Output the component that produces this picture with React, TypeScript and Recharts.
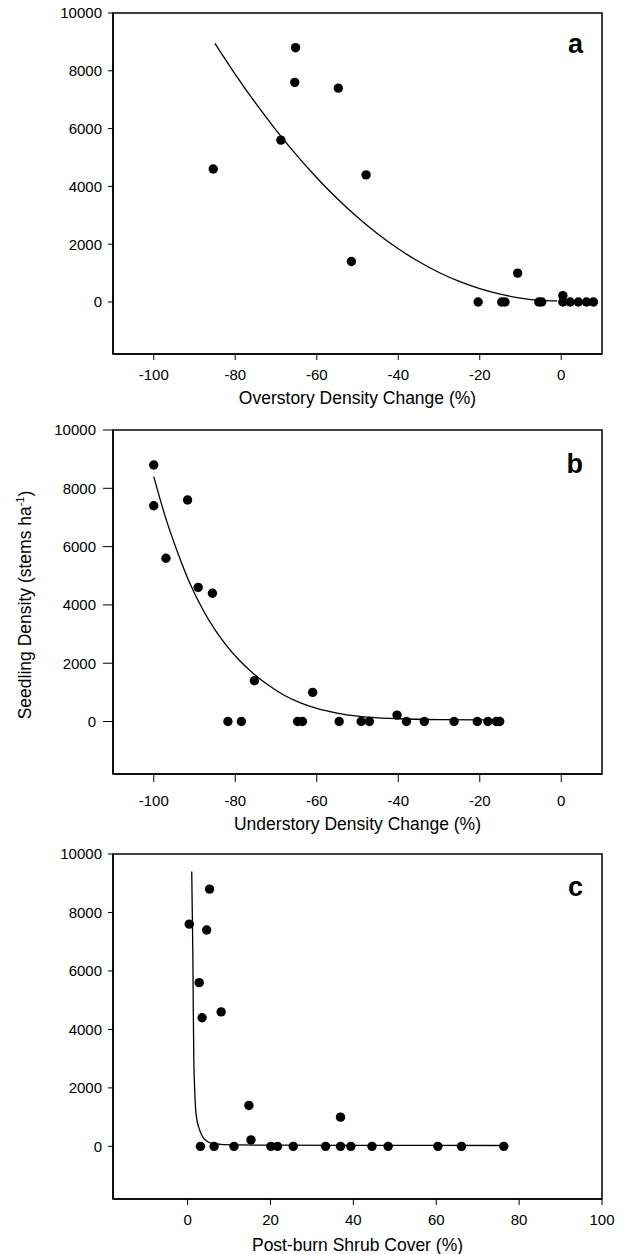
import React from "react";
import { ScatterChart, Scatter, XAxis, YAxis, ReferenceArea } from "recharts";

const FONT = '"Liberation Sans", Arial, Helvetica, sans-serif';

// y axis shared by all three panels
const yDomain: [number, number] = [-1800, 10000];
const yTicks = [0, 2000, 4000, 6000, 8000, 10000];

// panel a: overstory density change
const overX = [-85.4, -65.2, -65.4, -68.8, -54.7, -47.9, -51.5, -10.7, 0.4, -20.4, -14.6, -13.8, -5.5, -4.8, 0.4, 2.2, 4.2, 6.2, 7.9];
const overY = [4600, 8800, 7600, 5600, 7400, 4400, 1400, 1000, 220, 0, 0, 0, 0, 0, 0, 0, 0, 0, 0];
const overFitX = [-85, -80, -75, -70, -65, -60, -55, -50, -45, -40, -35, -30, -25, -20, -15, -10, -5, -1];
const overFitY = [8950, 7880, 6880, 5950, 5090, 4300, 3580, 2930, 2350, 1840, 1400, 1020, 710, 460, 270, 135, 55, 35];
const overTicks = [-100, -80, -60, -40, -20, 0];

// panel b: understory density change
const underX = [-100, -100, -91.7, -97, -89.1, -85.6, -75.3, -61, -81.8, -78.5, -64.7, -63.5, -54.5, -49.1, -47.1, -40.3, -38, -33.6, -26.3, -20.6, -18, -15.9, -15.1];
const underY = [8800, 7400, 7600, 5600, 4600, 4400, 1400, 1000, 0, 0, 0, 0, 0, 0, 0, 220, 0, 0, 0, 0, 0, 0, 0];
const underFitX = [-100, -97, -94, -91, -88, -85, -82, -79, -76, -72, -68, -64, -60, -55, -50, -45, -40, -30, -20, -15];
const underFitY = [8400, 6950, 5750, 4700, 3850, 3150, 2580, 2100, 1700, 1260, 900, 640, 450, 290, 185, 125, 95, 65, 55, 52];
const underTicks = [-100, -80, -60, -40, -20, 0];

// panel c: post-burn shrub cover
const shrubX = [0.4, 5.3, 4.6, 2.8, 3.5, 8.1, 14.8, 15.3, 36.9, 3.1, 6.4, 11.2, 20.1, 21.7, 25.5, 33.3, 36.9, 39.4, 44.5, 48.4, 60.4, 66.1, 76.3];
const shrubY = [7600, 8800, 7400, 5600, 4400, 4600, 1400, 220, 1000, 0, 0, 0, 0, 0, 0, 0, 0, 0, 0, 0, 0, 0, 0];
const shrubFitX = [1.0, 1.15, 1.28, 1.37, 1.5, 1.7, 1.9, 2.2, 2.7, 3.3, 3.9, 5.0, 6.3, 8, 12, 20, 40, 60, 76.5];
const shrubFitY = [9400, 7800, 6400, 4700, 3000, 2000, 1350, 950, 650, 420, 270, 150, 95, 70, 50, 40, 35, 32, 30];
const shrubTicks = [0, 20, 40, 60, 80, 100];

const zip = (xs: number[], ys: number[]) => xs.map((x, i) => ({ x, y: ys[i] }));

const Dot = (props: any) => <circle cx={props.cx} cy={props.cy} r={4.7} fill="#000" />;
const NoDot = () => <g />;

interface PanelProps {
  top: number;
  points: { x: number; y: number }[];
  fit: { x: number; y: number }[];
  xDomain: [number, number];
  xTicks: number[];
  xLabel: string;
  letter: string;
  marginTop: number;
  marginBottom: number;
  letterDy: number;
  yTickSize: number;
  yTickMargin: number;
  xTickSize: number;
  xTickMargin: number;
  xLabelDy: number;
  showYLabel?: boolean;
}

function Panel(p: PanelProps) {
  const letterLabel = (props: any) => {
    const vb = props.viewBox || {};
    return (
      <text x={vb.x + vb.width - 19} y={vb.y + p.letterDy} textAnchor="end" fontSize={27} fontWeight="bold" fontFamily={FONT} fill="#000">
        {p.letter}
      </text>
    );
  };
  const xLabel = (props: any) => {
    const vb = props.viewBox || {};
    return (
      <text x={vb.x + vb.width / 2} y={vb.y + p.xLabelDy} textAnchor="middle" fontSize={17.5} fontFamily={FONT} fill="#000">
        {p.xLabel}
      </text>
    );
  };
  const yLabel = (props: any) => {
    const vb = props.viewBox || {};
    const cx = 31;
    const cy = vb.y + vb.height / 2 + 3;
    return (
      <text x={cx} y={cy} transform={`rotate(-90 ${cx} ${cy})`} textAnchor="middle" fontSize={17.5} fontFamily={FONT} fill="#000">
        Seedling Density (stems ha<tspan dy={-7} fontSize={11}>-1</tspan>
        <tspan dy={7} fontSize={17.5}>)</tspan>
      </text>
    );
  };

  return (
    <div style={{ position: "absolute", left: 0, top: p.top }}>
      <ScatterChart width={623} height={418} margin={{ top: p.marginTop, right: 21, bottom: p.marginBottom, left: 53 }}>
        <XAxis
          type="number"
          dataKey="x"
          domain={p.xDomain}
          ticks={p.xTicks}
          allowDataOverflow
          height={50}
          tickSize={p.xTickSize}
          tickMargin={p.xTickMargin}
          axisLine={{ stroke: "#000", strokeWidth: 1.5 }}
          tickLine={{ stroke: "#000", strokeWidth: 1 }}
          tick={{ fill: "#000", fontSize: 15, fontFamily: FONT }}
          label={{ content: xLabel }}
        />
        <YAxis
          type="number"
          dataKey="y"
          domain={yDomain}
          ticks={yTicks}
          allowDataOverflow
          width={60}
          tickSize={p.yTickSize}
          tickMargin={p.yTickMargin}
          axisLine={{ stroke: "#000", strokeWidth: 1.5 }}
          tickLine={{ stroke: "#000", strokeWidth: 1 }}
          tick={{ fill: "#000", fontSize: 15, fontFamily: FONT }}
          label={p.showYLabel ? { content: yLabel } : undefined}
        />
        <ReferenceArea
          x1={p.xDomain[0]}
          x2={p.xDomain[1]}
          y1={yDomain[0]}
          y2={yDomain[1]}
          fill="none"
          fillOpacity={0}
          stroke="#000"
          strokeWidth={1.5}
          ifOverflow="visible"
          label={{ content: letterLabel }}
        />
        <Scatter
          data={p.fit}
          line={{ stroke: "#000", strokeWidth: 1.3 }}
          lineJointType="monotoneX"
          shape={NoDot}
          isAnimationActive={false}
        />
        <Scatter data={p.points} shape={Dot} isAnimationActive={false} />
      </ScatterChart>
    </div>
  );
}

export default function App() {
  return (
    <div style={{ position: "absolute", left: 0, top: 0, width: 623, height: 1254, background: "#fff" }}>
      <Panel
        top={0}
        points={zip(overX, overY)}
        fit={zip(overFitX, overFitY)}
        xDomain={[-110, 10]}
        xTicks={overTicks}
        xLabel="Overstory Density Change (%)"
        letter="a"
        marginTop={13}
        marginBottom={14}
        letterDy={40}
        yTickSize={5}
        yTickMargin={6}
        xTickSize={6}
        xTickMargin={9}
        xLabelDy={50}
      />
      <Panel
        top={418}
        points={zip(underX, underY)}
        fit={zip(underFitX, underFitY)}
        xDomain={[-110, 10]}
        xTicks={underTicks}
        xLabel="Understory Density Change (%)"
        letter="b"
        marginTop={12}
        marginBottom={12}
        letterDy={43}
        yTickSize={10}
        yTickMargin={7}
        xTickSize={8}
        xTickMargin={13}
        xLabelDy={56}
        showYLabel
      />
      <Panel
        top={836}
        points={zip(shrubX, shrubY)}
        fit={zip(shrubFitX, shrubFitY)}
        xDomain={[-18, 100]}
        xTicks={shrubTicks}
        xLabel="Post-burn Shrub Cover (%)"
        letter="c"
        marginTop={18}
        marginBottom={5}
        letterDy={42}
        yTickSize={5}
        yTickMargin={6}
        xTickSize={6}
        xTickMargin={9}
        xLabelDy={52}
      />
    </div>
  );
}
